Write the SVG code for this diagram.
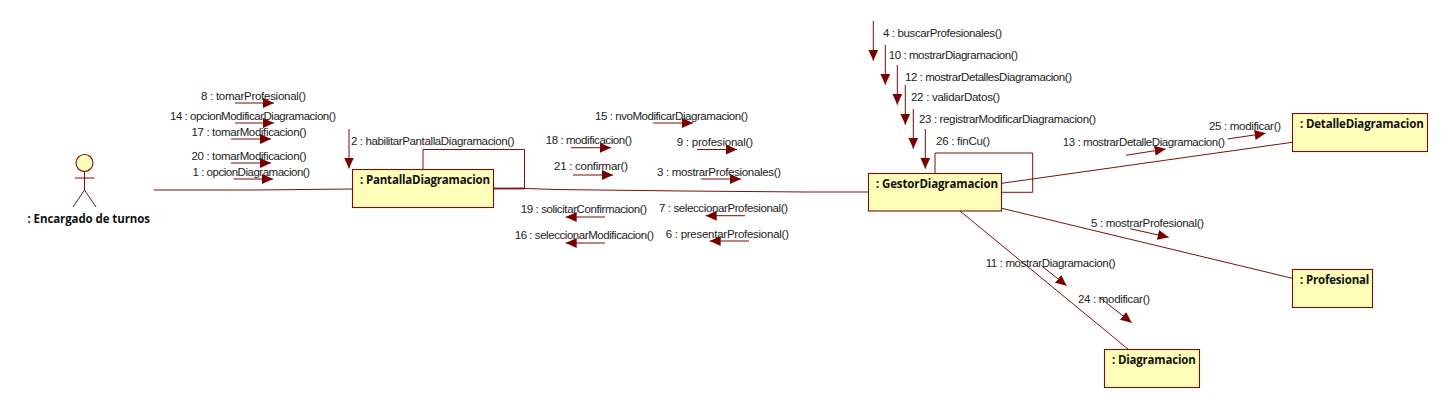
<svg xmlns="http://www.w3.org/2000/svg" width="1448" height="408" viewBox="0 0 1448 408">
<style>
.box{fill:#ffffb9;stroke:#7a0c0c;stroke-width:1.1}
.ln{fill:none;stroke:#7a1010;stroke-width:1}
.thick{fill:none;stroke:#7a1010;stroke-width:1.8}
.msg{fill:none;stroke:#7a0c0c;stroke-width:1;marker-end:url(#head)}
text{font-family:"Liberation Sans",Arial,sans-serif;font-size:11.500px;fill:#222}
text.n{font-family:"Open Sans","Liberation Sans",sans-serif;font-size:11.500px;font-weight:700;fill:#111}
</style>
<defs>
<marker id="head" markerUnits="userSpaceOnUse" markerWidth="12" markerHeight="12" refX="11" refY="5.500" orient="auto"><path d="M0 0.500L11 5.500L0 10.500Z" fill="#7a0000"/></marker>
</defs>
<rect width="1448" height="408" fill="#fff"/>
<g id="connectors">
<path class="ln" d="M154 190H253L352 189"/>
<path class="thick" d="M494 188.500H524.500"/>
<path class="ln" d="M524.500 188.500L557 189.500L682 191L806 192L868 192"/>
<path class="ln" d="M423 170V149.500H524.500V188.500"/>
<path class="ln" d="M935 173V153H1032.700V192.300H1001.700"/>
<path class="ln" d="M1001.700 183.300L1292.300 142.300"/>
<path class="ln" d="M1001.700 208.300L1292.300 278.300"/>
<path class="ln" d="M960 211L1128.300 349.300"/>
</g>
<g id="messages">
<path class="msg" d="M235 103H274"/><path class="msg" d="M235 123H274"/><path class="msg" d="M231 139H271"/><path class="msg" d="M231 163H271"/><path class="msg" d="M233.500 179H273"/>
<path class="msg" d="M349 129V168.500"/>
<path class="msg" d="M653 123H693"/><path class="msg" d="M571 147.700H611"/><path class="msg" d="M697 149.500H737"/><path class="msg" d="M573 175H613"/><path class="msg" d="M701 179H741"/>
<path class="msg" d="M605 217H565.700"/><path class="msg" d="M745 215.700H705.700"/><path class="msg" d="M605 243H565.700"/><path class="msg" d="M749 241H709.700"/>
<path class="msg" d="M873.300 21V60.700"/><path class="msg" d="M885.300 45V84.700"/><path class="msg" d="M897.300 65V104.700"/><path class="msg" d="M905.300 85V124.700"/><path class="msg" d="M913.300 109V148.700"/><path class="msg" d="M925.300 129V168.700"/>
<path class="msg" d="M1227.700 139L1265.700 133.300"/><path class="msg" d="M1126 155.300L1165.700 149"/><path class="msg" d="M1130 228.700L1168.700 237.300"/><path class="msg" d="M1041.700 266L1066.700 285.700"/><path class="msg" d="M1099.300 297.300L1131.700 322.700"/>
</g>
<g id="labels">
<text x="201" y="100" textLength="105">8 : tomarProfesional()</text>
<text x="170" y="120" textLength="166">14 : opcionModificarDiagramacion()</text>
<text x="191.500" y="136" textLength="115">17 : tomarModificacion()</text>
<text x="191.500" y="160" textLength="115">20 : tomarModificacion()</text>
<text x="192.500" y="176" textLength="117.500">1 : opcionDiagramacion()</text>
<text x="351" y="145" textLength="163.500">2 : habilitarPantallaDiagramacion()</text>
<text x="595" y="120" textLength="153">15 : nvoModificarDiagramacion()</text>
<text x="545.700" y="144" textLength="86.300">18 : modificacion()</text>
<text x="676.700" y="146" textLength="76.300">9 : profesional()</text>
<text x="554" y="170" textLength="74">21 : confirmar()</text>
<text x="657" y="176" textLength="124">3 : mostrarProfesionales()</text>
<text x="520.700" y="213" textLength="126.300">19 : solicitarConfirmacion()</text>
<text x="659" y="212" textLength="129">7 : seleccionarProfesional()</text>
<text x="514.700" y="239" textLength="139.300">16 : seleccionarModificacion()</text>
<text x="665.700" y="238" textLength="123.300">6 : presentarProfesional()</text>
<text x="883" y="36.700" textLength="119">4 : buscarProfesionales()</text>
<text x="888.700" y="59" textLength="129.300">10 : mostrarDiagramacion()</text>
<text x="905" y="81" textLength="167">12 : mostrarDetallesDiagramacion()</text>
<text x="911" y="101" textLength="89">22 : validarDatos()</text>
<text x="919" y="123" textLength="177">23 : registrarModificarDiagramacion()</text>
<text x="936" y="145" textLength="54">26 : finCu()</text>
<text x="1209" y="130" textLength="72">25 : modificar()</text>
<text x="1062.700" y="146" textLength="162.300">13 : mostrarDetalleDiagramacion()</text>
<text x="1091" y="227" textLength="113">5 : mostrarProfesional()</text>
<text x="985.700" y="267.300" textLength="130">11 : mostrarDiagramacion()</text>
<text x="1078" y="303" textLength="72">24 : modificar()</text>
</g>
<g id="actor">
<circle cx="84.500" cy="163" r="8.500" class="box"/>
<path class="ln" d="M84.500 171.500V190M75 178H94.500M84.500 190L73 207M84.500 190L96 207"/>
<text class="n" x="27.500" y="222.700" textLength="122.500">: Encargado de turnos</text>
</g>
<g id="pantalla"><rect class="box" x="352.500" y="169.500" width="141" height="38"/><text class="n" x="360" y="184" textLength="130">: PantallaDiagramacion</text></g>
<g id="gestor"><rect class="box" x="868.500" y="173.500" width="133" height="37.500"/><text class="n" x="876" y="187.700" textLength="122">: GestorDiagramacion</text></g>
<g id="detalle"><rect class="box" x="1292.500" y="113.500" width="135" height="38"/><text class="n" x="1300" y="128" textLength="123.700">: DetalleDiagramacion</text></g>
<g id="profesional"><rect class="box" x="1292.500" y="269.500" width="80" height="38"/><text class="n" x="1300" y="284" textLength="69.300">: Profesional</text></g>
<g id="diagramacion"><rect class="box" x="1104.500" y="349.500" width="95" height="38"/><text class="n" x="1112" y="364" textLength="83.700">: Diagramacion</text></g>
</svg>
